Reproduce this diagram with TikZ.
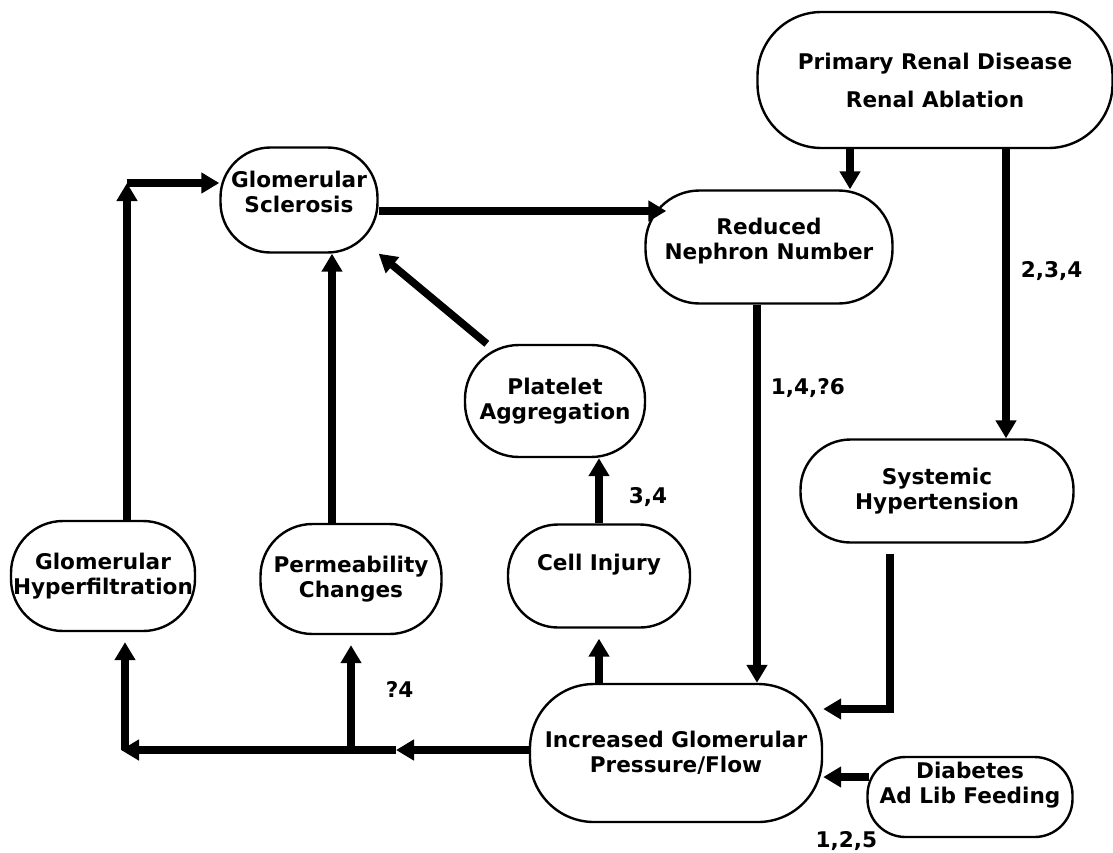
\documentclass[tikz,border=0pt]{standalone}
\usepackage{fontspec}
\setmainfont{DejaVu Sans}
\usepackage{tikz}
\usetikzlibrary{arrows.meta,calc,positioning}
\newcommand{\lift}[2]{\raisebox{#1}[\height][\depth]{#2}}
\tikzset{
  box/.style={draw, line width=1.2pt, rounded corners=25pt, align=center, inner sep=0pt,
    font=\bfseries\fontsize{10.8}{12.5}\selectfont},
  flow/.style={line width=3.8pt, -{Triangle[length=9pt,width=10pt]}},
  lbl/.style={inner sep=0pt, font=\bfseries\fontsize{10.8}{12.5}\selectfont},
}

\begin{document}
\begin{tikzpicture}[x=0.5pt,y=-0.5pt]
    \useasboundingbox (0,0) rectangle (1113,852);
    \node[box, minimum width=177.5pt, minimum height=68pt, rounded corners=32pt] (prim) at (935,80) {Primary Renal Disease\\[6.5pt]Renal Ablation};
    \node[box, minimum width=78.5pt, minimum height=52.5pt] (scler) at (299,200) {\lift{4pt}{Glomerular}\\\lift{4pt}{Sclerosis}};
    \node[box, minimum width=123.5pt, minimum height=56.5pt, rounded corners=27pt] (redu) at (769,247) {\lift{3pt}{Reduced}\\\lift{3pt}{Nephron Number}};
    \node[box, minimum width=90pt, minimum height=56pt, rounded corners=27pt] (plat) at (555,401) {Platelet\\Aggregation};
    \node[box, minimum width=136.5pt, minimum height=51.5pt] (syst) at (937,491) {Systemic\\Hypertension};
    \node[box, minimum width=92pt, minimum height=55pt, rounded corners=26pt] (hyper) at (103,576) {Glomerular\\Hyperfiltration};
    \node[box, minimum width=90.5pt, minimum height=55pt, rounded corners=26pt] (perm) at (351,579) {Permeability\\Changes};
    \node[box, minimum width=91pt, minimum height=51.5pt] (cell) at (599,576) {\lift{5.5pt}{Cell Injury}};
    \node[box, minimum width=146pt, minimum height=69pt, rounded corners=32pt] (incr) at (676,753) {Increased Glomerular\\Pressure/Flow};
    \node[box, minimum width=102.5pt, minimum height=40pt, rounded corners=19pt] (diab) at (970,797) {\lift{6pt}{Diabetes}\\\lift{6pt}{Ad Lib Feeding}};

    \coordinate (pa) at ($(prim.south)+(-85,0)$);
    \coordinate (pb) at ($(prim.south)+(71,0)$);
    \draw[flow] (pa) -- (pa |- redu.north);
    \draw[flow] (pb) -- (pb |- syst.north) node[lbl, pos=0.42, right=5.5pt] {2,3,4};

    \coordinate (sa) at ($(scler.east)+(0,11)$);
    \draw[flow] (sa) -- ($(sa -| redu.west)+(22,0)$);

    \coordinate (ra) at ($(redu.south)+(-12,0)$);
    \draw[flow] (ra) -- (ra |- incr.north) node[lbl, pos=0.22, right=5pt] {1,4,?6};

    \draw[flow] ($(plat.north west)+(23,0)$) -- (scler.south east);
    \draw[flow] (cell.north) -- (cell.north |- plat.south) node[lbl, pos=0.41, right=13pt] {3,4};
    \draw[flow, shorten >=5pt] (cell.south |- incr.north) -- (cell.south);

    \coordinate (pc) at ($(perm.north)+(-19,0)$);
    \draw[flow] (pc) -- (pc |- scler.south);

    \coordinate (ha) at ($(hyper.north)+(24,0)$);
    \coordinate (hb) at ($(scler.west)+(0,-17)$);
    \draw[flow] (ha) -- (ha |- hb);
    \draw[flow] (ha |- hb) -- (hb);

    \coordinate (ba) at ($(incr.west)+(0,-3)$);
    \coordinate (bb) at (perm.south |- ba);
    \coordinate (bm) at ($(bb)+(45,0)$);
    \coordinate (bc) at ($(hyper.south |- ba)+(18,0)$);
    \coordinate (bd) at ($(bc)+(4,0)$);
    \draw[flow] (ba) -- (bm);
    \draw[flow] (bm) -- (bc);
    \draw[flow, shorten >=5pt] (bd) -- (bd |- hyper.south);
    \draw[flow, shorten >=5pt] (bb) -- (perm.south) node[lbl, pos=0.53, right=15.5pt] {?4};

    \coordinate (sb) at ($(syst.south)+(-47,10)$);
    \draw[flow] (sb) |- ($(incr.east)+(0,-44)$);

    \coordinate (da) at ($(diab.west)+(3,-20)$);
    \draw[flow] (da) -- (da -| incr.east);
    \node[lbl] (n125) at ($(diab.south west)+(-20,3)$) {1,2,5};
\end{tikzpicture}
\end{document}
